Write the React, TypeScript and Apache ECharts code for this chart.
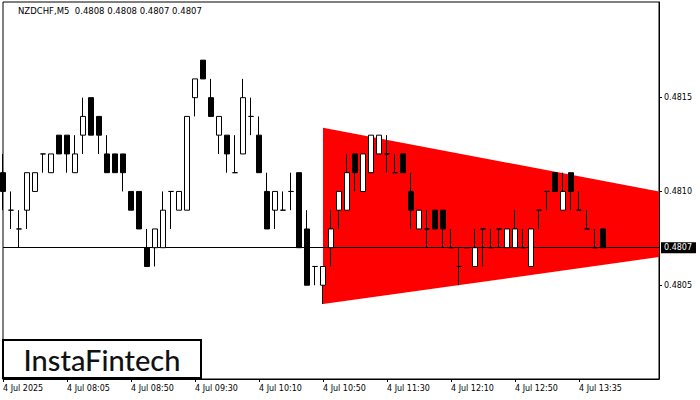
import React, { useEffect, useRef } from 'react';
import * as echarts from 'echarts';

// ---- data ----
const symbolName = 'NZDCHF,M5';
const tickLabels = ['4 Jul 2025', '4 Jul 08:05', '4 Jul 08:50', '4 Jul 09:30', '4 Jul 10:10', '4 Jul 10:50', '4 Jul 11:30', '4 Jul 12:10', '4 Jul 12:50', '4 Jul 13:35'];
const barsPerLabel = 8;
const slotCount = 83; // bar slots visible across the plot
const priceTicks = [0.4805, 0.481, 0.4815];
const lastPrice = 0.4807;

const opens = [
  0.4811, 0.4809, 0.4808, 0.4809, 0.4810, 0.4812, 0.4811, 0.4813, 0.4813, 0.4811,
  0.4813, 0.4815, 0.4814, 0.4812, 0.4812, 0.4812, 0.4810, 0.4810, 0.4807, 0.4807,
  0.4807, 0.4810, 0.4809, 0.4809, 0.4815, 0.4817, 0.4815, 0.4813, 0.4813, 0.4811,
  0.4812, 0.4814, 0.4813, 0.4810, 0.4809, 0.4809, 0.4810, 0.4811, 0.4808, 0.4806,
  0.4805, 0.4807, 0.4809, 0.4809, 0.4812, 0.4810, 0.4811, 0.4812, 0.4812, 0.4811,
  0.4812, 0.4810, 0.4808, 0.4808, 0.4809, 0.4809, 0.4807, 0.4806, 0.4807, 0.4806,
  0.4808, 0.4807, 0.4808, 0.4807, 0.4807, 0.4807, 0.4806, 0.4809, 0.4810, 0.4811,
  0.4809, 0.4811, 0.4809, 0.4808, 0.4807, 0.4808,
];
const closes = [
  0.4810, 0.4809, 0.4808, 0.4811, 0.4811, 0.4812, 0.4812, 0.4812, 0.4812, 0.4812,
  0.4814, 0.4813, 0.4813, 0.4811, 0.4811, 0.4811, 0.4809, 0.4808, 0.4806, 0.4808,
  0.4809, 0.4810, 0.4810, 0.4814, 0.4816, 0.4816, 0.4814, 0.4814, 0.4812, 0.4811,
  0.4815, 0.4814, 0.4811, 0.4808, 0.4810, 0.4809, 0.4810, 0.4807, 0.4805, 0.4806,
  0.4806, 0.4808, 0.4810, 0.4811, 0.4811, 0.4812, 0.4813, 0.4813, 0.4812, 0.4811,
  0.4811, 0.4809, 0.4809, 0.4808, 0.4808, 0.4808, 0.4807, 0.4806, 0.4807, 0.4807,
  0.4808, 0.4807, 0.4808, 0.4808, 0.4808, 0.4807, 0.4808, 0.4809, 0.4810, 0.4810,
  0.4810, 0.4810, 0.4809, 0.4808, 0.4807, 0.4807,
];
const highs = [
  0.4812, 0.4810, 0.4809, 0.4811, 0.4811, 0.4812, 0.4812, 0.4813, 0.4813, 0.4813,
  0.4815, 0.4815, 0.4814, 0.4813, 0.4812, 0.4812, 0.4810, 0.4810, 0.4808, 0.4808,
  0.4810, 0.4810, 0.4810, 0.4814, 0.4816, 0.4817, 0.4816, 0.4814, 0.4813, 0.4813,
  0.4816, 0.4815, 0.4814, 0.4811, 0.4810, 0.4810, 0.4811, 0.4811, 0.4809, 0.4806,
  0.4806, 0.4809, 0.4810, 0.4812, 0.4812, 0.4812, 0.4813, 0.4813, 0.4813, 0.4812,
  0.4812, 0.4811, 0.4809, 0.4809, 0.4809, 0.4809, 0.4808, 0.4807, 0.4807, 0.4808,
  0.4808, 0.4808, 0.4808, 0.4808, 0.4809, 0.4808, 0.4808, 0.4809, 0.4810, 0.4811,
  0.4811, 0.4811, 0.4810, 0.4809, 0.4808, 0.4808,
];
const lows = [
  0.4809, 0.4808, 0.4807, 0.4808, 0.4810, 0.4811, 0.4811, 0.4812, 0.4811, 0.4811,
  0.4812, 0.4813, 0.4812, 0.4811, 0.4811, 0.4810, 0.4809, 0.4808, 0.4806, 0.4806,
  0.4807, 0.4808, 0.4809, 0.4809, 0.4814, 0.4816, 0.4814, 0.4812, 0.4811, 0.4811,
  0.4812, 0.4813, 0.4811, 0.4808, 0.4808, 0.4809, 0.4809, 0.4807, 0.4805, 0.4805,
  0.4804, 0.4806, 0.4808, 0.4809, 0.4810, 0.4810, 0.4811, 0.4812, 0.4811, 0.4811,
  0.4811, 0.4808, 0.4808, 0.4807, 0.4808, 0.4807, 0.4807, 0.4805, 0.4807, 0.4806,
  0.4806, 0.4807, 0.4807, 0.4807, 0.4807, 0.4807, 0.4806, 0.4808, 0.4809, 0.4810,
  0.4809, 0.4809, 0.4809, 0.4808, 0.4807, 0.4807,
];

// bearish triangle pattern: start/end bar slots, upper and lower edge prices
const triangleBars = [40, 82];
const triangleUpper = [0.48134, 0.4810];
const triangleLower = [0.4804, 0.48065];

const FONT = 'DejaVu Sans';

export default function App() {
  const ref = useRef<HTMLDivElement>(null);

  useEffect(() => {
    if (!ref.current) return;
    const chart = echarts.init(ref.current, null, { renderer: 'svg' });

    const cats = Array.from({ length: slotCount }, (_, i) => String(i));
    const showIdx = (i: number) => i % barsPerLabel === 0 && i / barsPerLabel < tickLabels.length;
    const candleData = opens.map((o, i) => [o, closes[i], lows[i], highs[i]]);
    const n = opens.length - 1;
    const title = `${symbolName}  ${opens[n].toFixed(4)} ${highs[n].toFixed(4)} ${lows[n].toFixed(4)} ${closes[n].toFixed(4)}`;

    const option: any = {
      animation: false,
      backgroundColor: '#ffffff',
      grid: {
        left: 3, top: 2, width: 656, height: 377,
        show: true, borderColor: '#000', borderWidth: 1, backgroundColor: 'transparent',
      },
      xAxis: {
        type: 'category',
        data: cats,
        boundaryGap: false,
        axisLine: { show: true, lineStyle: { color: '#000', width: 1 } },
        axisTick: { show: true, interval: (i: number) => showIdx(i), length: 3, lineStyle: { color: '#000' } },
        axisLabel: {
          interval: (i: number) => showIdx(i),
          formatter: (_v: string, i: number) => (showIdx(i) ? tickLabels[i / barsPerLabel] : ''),
          align: 'left', margin: 5, fontSize: 8, fontFamily: FONT, color: '#000',
        },
        splitLine: { show: false },
      },
      yAxis: {
        type: 'value',
        position: 'right',
        min: 0.48, max: 0.48201, interval: 0.0005,
        axisLine: { show: true, lineStyle: { color: '#000', width: 1 } },
        axisTick: { show: true, length: 3, customValues: priceTicks, lineStyle: { color: '#000' } },
        axisLabel: {
          customValues: priceTicks,
          formatter: (v: number) => v.toFixed(4),
          margin: 5, fontSize: 8, fontFamily: FONT, color: '#000',
        },
        splitLine: { show: false },
      },
      series: [
        {
          type: 'custom',
          z: 1,
          silent: true,
          data: [[triangleBars[0], triangleUpper[0]]],
          renderItem: (_params: any, api: any) => {
            const pts = [
              api.coord([triangleBars[0], triangleUpper[0]]),
              api.coord([triangleBars[1], triangleUpper[1]]),
              api.coord([triangleBars[1], triangleLower[1]]),
              api.coord([triangleBars[0], triangleLower[0]]),
            ];
            return { type: 'polygon', shape: { points: pts }, style: { fill: '#ff0000' } };
          },
          markLine: {
            silent: true,
            symbol: ['none', 'none'],
            precision: 4,
            z: 5,
            lineStyle: { color: '#000', width: 1, type: 'solid' },
            label: {
              show: true, position: 'end', distance: 2,
              formatter: lastPrice.toFixed(4),
              color: '#fff', backgroundColor: '#000',
              padding: [2, 4, 1, 3], fontSize: 8, fontFamily: FONT,
            },
            data: [{ yAxis: lastPrice }],
          },
        },
        {
          type: 'candlestick',
          z: 10,
          data: candleData,
          barWidth: 5,
          itemStyle: {
            color: '#ffffff', color0: '#000000',
            borderColor: '#000000', borderColor0: '#000000', borderColorDoji: '#000000',
            borderWidth: 1,
          },
        },
      ],
      graphic: [
        {
          type: 'text', x: 18, y: 11, z: 100,
          style: { text: title, fontSize: 8.5, fontFamily: FONT, fill: '#000', verticalAlign: 'middle' },
        },
        {
          type: 'rect', z: 100,
          shape: { x: 3, y: 340, width: 198, height: 38 },
          style: { fill: '#fff', stroke: '#000', lineWidth: 2 },
        },
        {
          type: 'text', x: 102, y: 359, z: 101,
          style: {
            text: 'InstaFintech', fontSize: 29, fontWeight: 500, fontFamily: 'Lato',
            fill: '#111', align: 'center', verticalAlign: 'middle',
          },
        },
      ],
    };

    chart.setOption(option);
    return () => chart.dispose();
  }, []);

  return (
    <div
      ref={ref}
      style={{ position: 'absolute', left: 0, top: 0, width: 700, height: 400, background: '#fff' }}
    />
  );
}
